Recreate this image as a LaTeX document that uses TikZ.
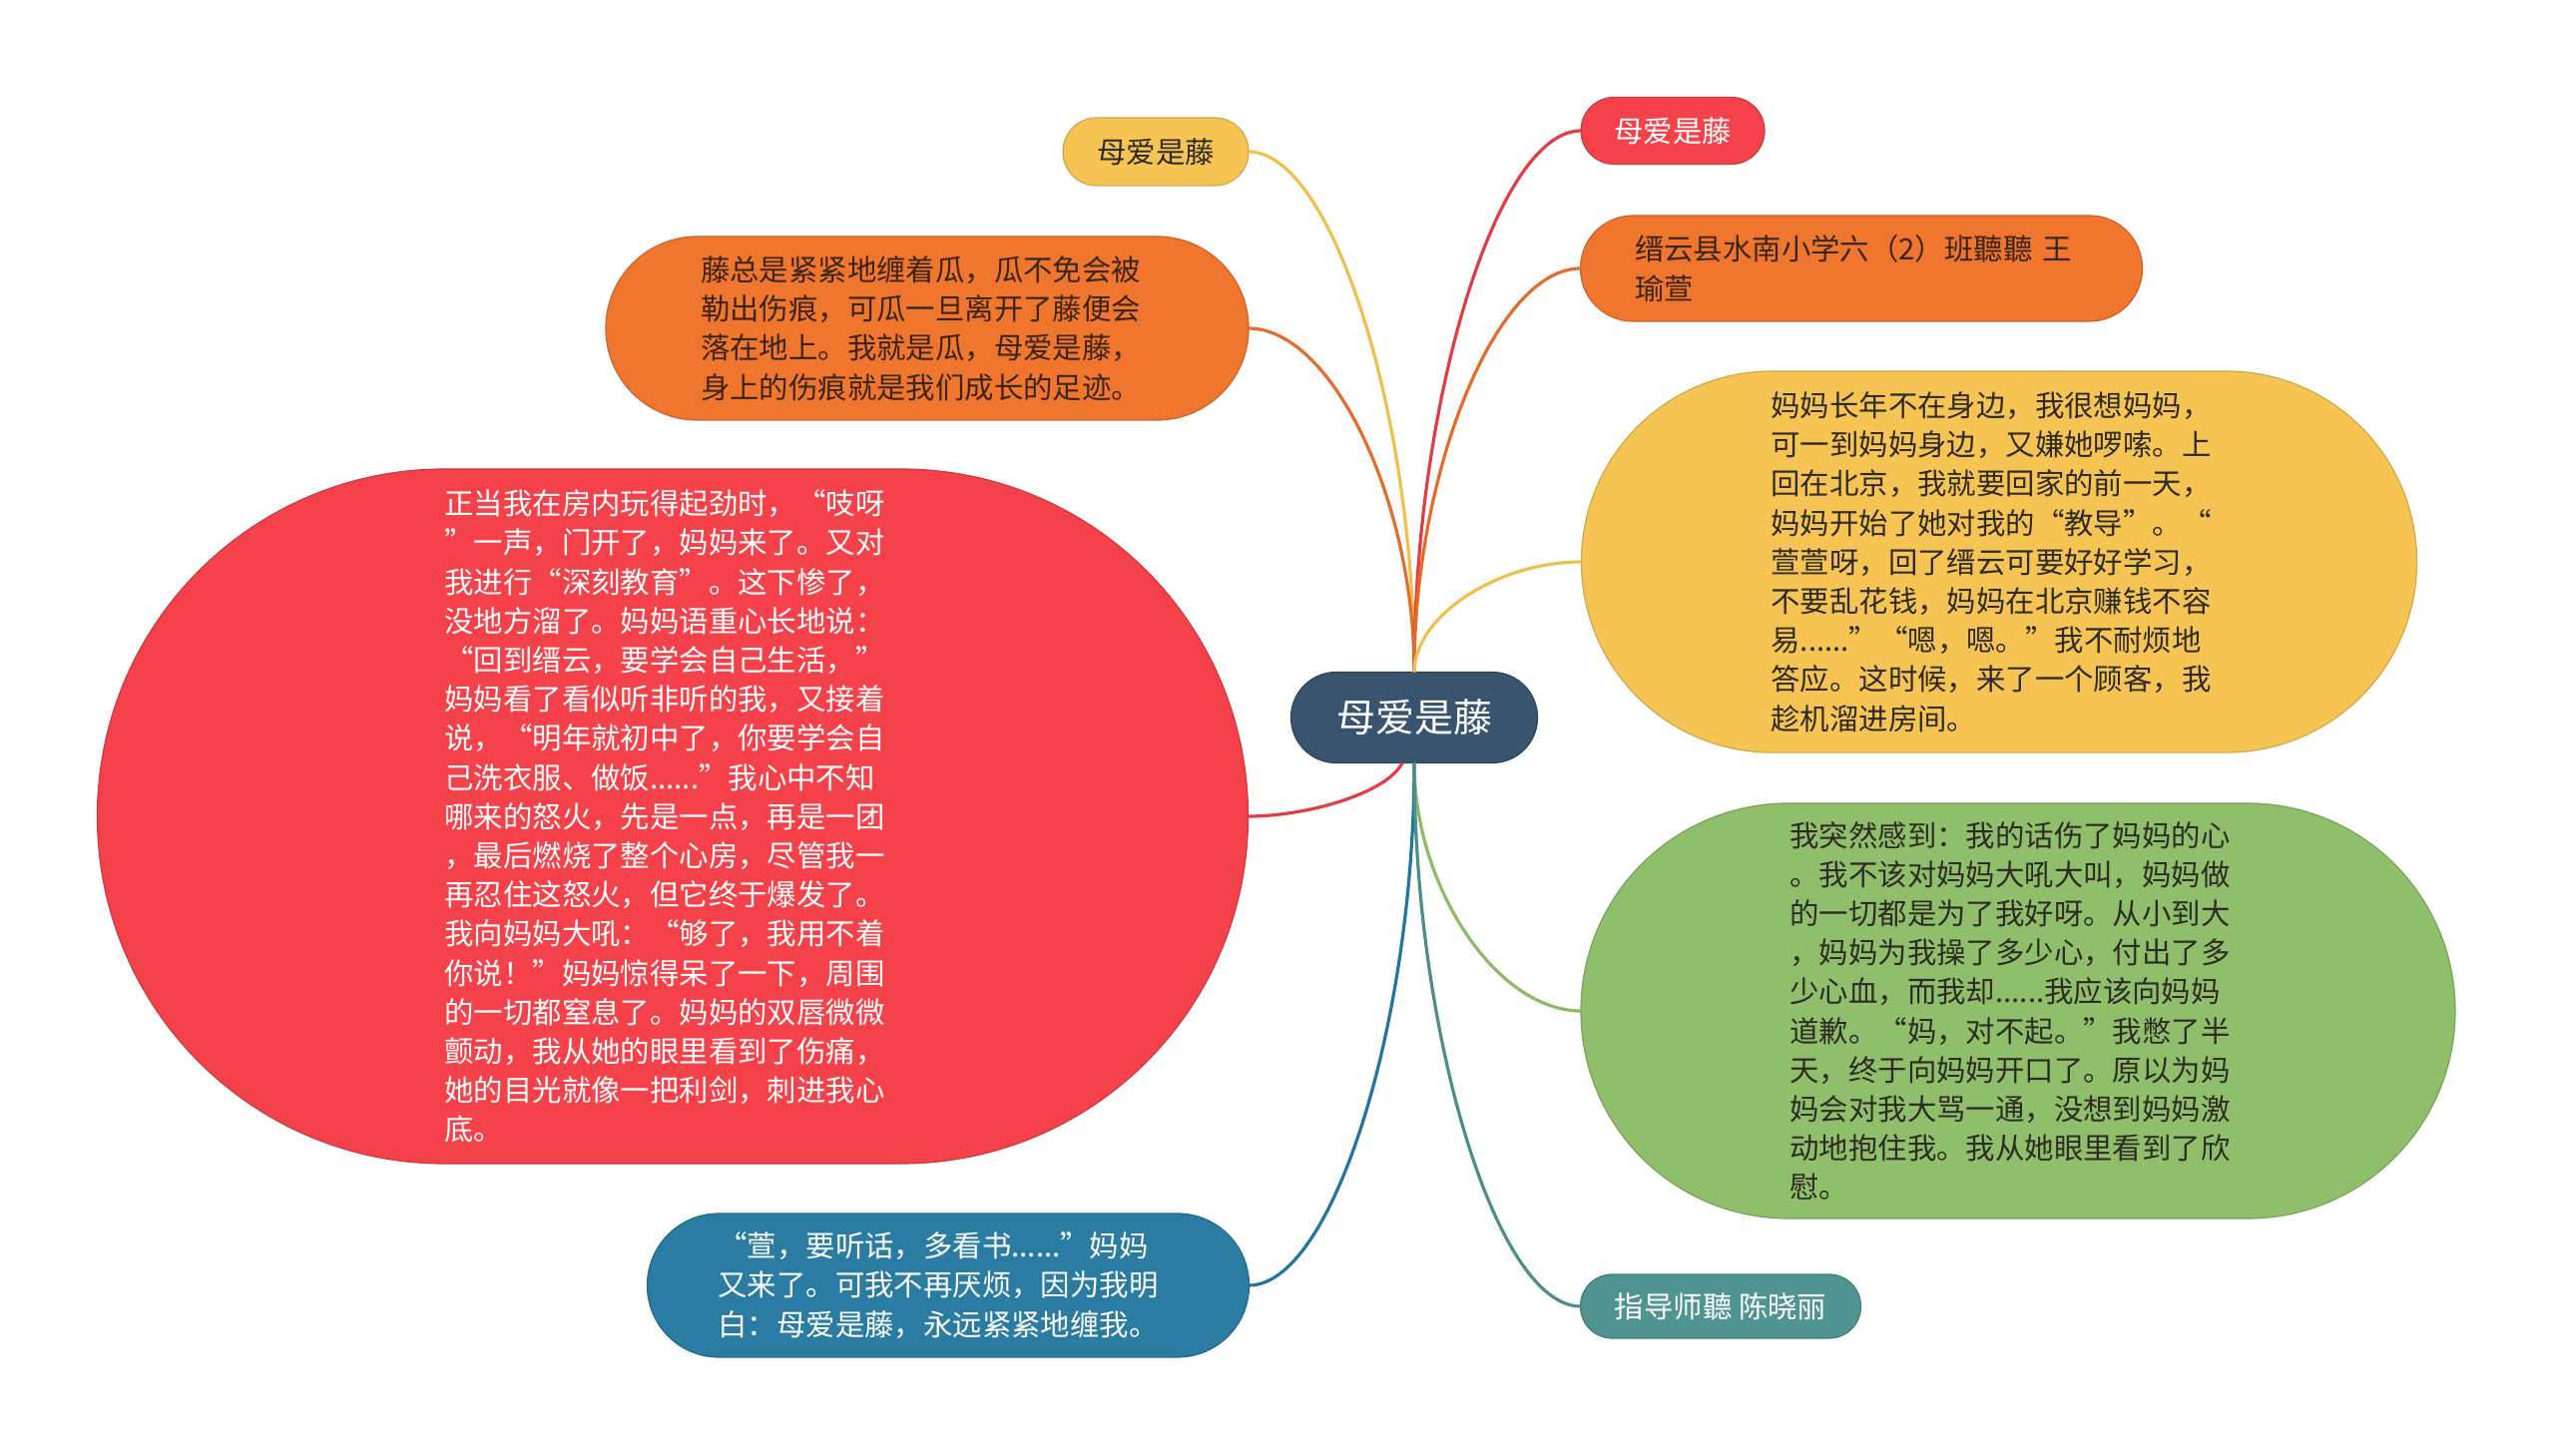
\documentclass[tikz,border=0pt]{standalone}
\usepackage{fontspec}
\setmainfont{Noto Sans CJK SC}
\usetikzlibrary{calc}
\definecolor{cnode}{HTML}{38546F}
\definecolor{cyel}{HTML}{F6C453}
\definecolor{cred}{HTML}{F5424A}
\definecolor{corg}{HTML}{F0762E}
\definecolor{cgrn}{HTML}{8FBF6B}
\definecolor{cblu}{HTML}{2A7CA3}
\definecolor{ctea}{HTML}{4F9490}
\definecolor{lyel}{HTML}{EFC04E}
\definecolor{lred}{HTML}{E23C44}
\definecolor{lorg}{HTML}{E36E2C}
\definecolor{lgrn}{HTML}{8CBC68}
\definecolor{lblu}{HTML}{22759F}
\definecolor{ltea}{HTML}{4B8E8A}
\definecolor{tdark}{HTML}{2E2A24}
\definecolor{tbrown}{HTML}{3A2412}
\begin{document}
\begin{tikzpicture}[x=0.5pt,y=-0.5pt,
  pill/.style={inner sep=0pt, outer sep=0pt, align=left, line width=0.6pt,
    font=\fontsize{14.7pt}{19.6pt}\selectfont},
  conn/.style={line width=1.6pt},
]
\fill[white] (0,0) rectangle (2560,1459);
\useasboundingbox (0,0) rectangle (2560,1459);

% central topic
\node[pill, fill=cnode, draw=cnode!80!black, text=white, minimum width=123.5pt, minimum height=45.5pt,
  rounded corners=22.7pt, font=\fontsize{19.5pt}{24pt}\selectfont] (c) at (1417,719) {母爱是藤};

% left side
\node[pill, fill=cyel, draw=cyel!85!black, text=tdark, minimum width=93pt, minimum height=34pt,
  rounded corners=16.9pt] (ys) at (1158,152) {母爱是藤};

\node[pill, fill=corg, draw=corg!85!black, text=tbrown, minimum width=322pt, minimum height=92pt,
  rounded corners=45.9pt, text width=227pt] (ol) at (929,329) {藤总是紧紧地缠着瓜，瓜不免会被\\勒出伤痕，可瓜一旦离开了藤便会\\落在地上。我就是瓜，母爱是藤，\\身上的伤痕就是我们成长的足迹。};

\node[pill, fill=cred, draw=cred!85!black, text=white, minimum width=576.5pt, minimum height=348pt,
  rounded corners=173.9pt, text width=228.5pt] (rb) at (674,818) {正当我在房内玩得起劲时，“吱呀\\”一声，门开了，妈妈来了。又对\\我进行“深刻教育”。这下惨了，\\没地方溜了。妈妈语重心长地说：\\“回到缙云，要学会自己生活，”\\妈妈看了看似听非听的我，又接着\\说，“明年就初中了，你要学会自\\己洗衣服、做饭......”我心中不知\\哪来的怒火，先是一点，再是一团\\，最后燃烧了整个心房，尽管我一\\再忍住这怒火，但它终于爆发了。\\我向妈妈大吼：“够了，我用不着\\你说！”妈妈惊得呆了一下，周围\\的一切都窒息了。妈妈的双唇微微\\颤动，我从她的眼里看到了伤痛，\\她的目光就像一把利剑，刺进我心\\底。};

\node[pill, fill=cblu, draw=cblu!85!black, text=white, minimum width=301.5pt, minimum height=72pt,
  rounded corners=35.9pt, text width=230.5pt] (bl) at (950,1288) {“萱，要听话，多看书......”妈妈\\又来了。可我不再厌烦，因为我明\\白：母爱是藤，永远紧紧地缠我。};

% right side
\node[pill, fill=cred, draw=cred!85!black, text=white, minimum width=92pt, minimum height=33.5pt,
  rounded corners=16.7pt] (rs) at (1676,131) {母爱是藤};

\node[pill, fill=corg, draw=corg!85!black, text=tbrown, minimum width=281.5pt, minimum height=53pt,
  rounded corners=26.4pt, text width=227pt] (os) at (1865,269) {缙云县水南小学六（2）班聽聽 王\\瑜萱};

\node[pill, fill=cyel, draw=cyel!85!black, text=tdark, minimum width=418.5pt, minimum height=191pt,
  rounded corners=95.4pt, text width=228.5pt] (yb) at (2003,563) {妈妈长年不在身边，我很想妈妈，\\可一到妈妈身边，又嫌她啰嗦。上\\回在北京，我就要回家的前一天，\\妈妈开始了她对我的“教导”。“\\萱萱呀，回了缙云可要好好学习，\\不要乱花钱，妈妈在北京赚钱不容\\易......”“嗯，嗯。”我不耐烦地\\答应。这时候，来了一个顾客，我\\趁机溜进房间。};

\node[pill, fill=cgrn, draw=cgrn!85!black, text=tdark, minimum width=438pt, minimum height=208pt,
  rounded corners=103.9pt, text width=228.5pt] (gb) at (2022,1013) {我突然感到：我的话伤了妈妈的心\\。我不该对妈妈大吼大叫，妈妈做\\的一切都是为了我好呀。从小到大\\，妈妈为我操了多少心，付出了多\\少心血，而我却......我应该向妈妈\\道歉。“妈，对不起。”我憋了半\\天，终于向妈妈开口了。原以为妈\\妈会对我大骂一通，没想到妈妈激\\动地抱住我。我从她眼里看到了欣\\慰。};

\node[pill, fill=ctea, draw=ctea!85!black, text=white, minimum width=140.5pt, minimum height=32pt,
  rounded corners=15.9pt] (tl) at (1724,1309) {指导师聽 陈晓丽};

% connectors (top)
\draw[conn, lyel] (c.north) .. controls +(0,-261) and +(83,0) .. (ys.east);
\draw[conn, lorg] (c.north) .. controls +(0,-173) and +(83,0) .. (ol.east);
\draw[conn, lred] (c.north) .. controls +(0,-272) and +(-84,0) .. (rs.west);
\draw[conn, lorg] (c.north) .. controls +(0,-203) and +(-84,0) .. (os.west);
\draw[conn, lyel] (c.north) .. controls +(0,-56) and +(-84,0) .. (yb.west);
% connectors (bottom)
\coordinate (cs) at ($(c.south)+(-12,0)$);
\draw[conn, lred] (cs) .. controls +(-15,30) and +(60,0) .. (rb.east);
\draw[conn, lblu] (c.south) .. controls +(0,262) and +(83,0) .. (bl.east);
\draw[conn, lgrn] (c.south) .. controls +(0,125) and +(-84,0) .. (gb.west);
\draw[conn, ltea] (c.south) .. controls +(0,273) and +(-84,0) .. (tl.west);
\end{tikzpicture}
\end{document}
